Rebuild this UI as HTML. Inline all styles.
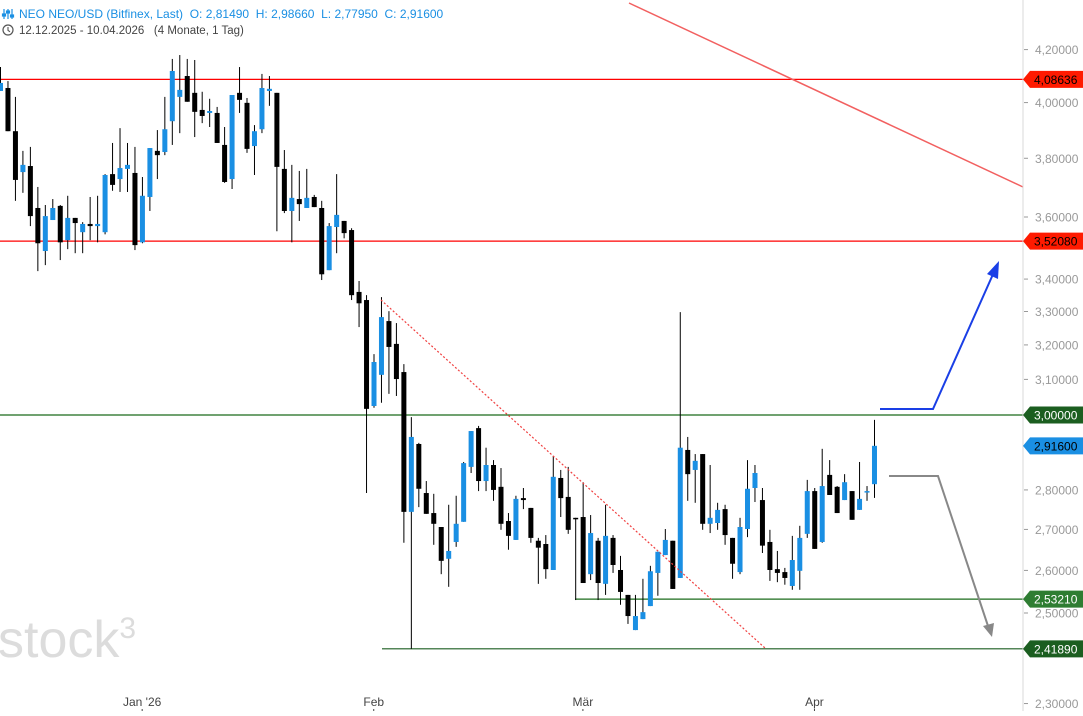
<!DOCTYPE html>
<html><head><meta charset="utf-8"><style>
body{margin:0;background:#fff;}
svg text{font-family:"Liberation Sans",Arial,sans-serif;white-space:pre;}
</style></head><body>
<svg id="chart" width="1083" height="711" viewBox="0 0 1083 711" xmlns="http://www.w3.org/2000/svg">
<rect width="1083" height="711" fill="#fff"/>
<text x="-2" y="657" font-size="52" fill="#dcdcdc">stock<tspan font-size="30" dy="-19">3</tspan></text>
<g id="levels"></g>
<g id="candles"></g>
<g id="overlay"></g>
<line x1="1023" y1="0" x2="1023" y2="711" stroke="#d8d8d8"/>
<g id="yaxis"></g>
<g id="xaxis"></g>
<g>
<g stroke="#1a8fe3" stroke-width="1.2">
<line x1="4" y1="9" x2="4" y2="19"/><line x1="8" y1="9" x2="8" y2="19"/><line x1="12" y1="9" x2="12" y2="19"/>
<rect x="2.5" y="14" width="3" height="2" fill="#1a8fe3"/><rect x="6.5" y="11" width="3" height="2" fill="#1a8fe3"/><rect x="10.5" y="15" width="3" height="2" fill="#1a8fe3"/>
</g>
<text x="19" y="18" font-size="12" fill="#1a8fe3">NEO NEO/USD (Bitfinex, Last)  O: 2,81490  H: 2,98660  L: 2,77950  C: 2,91600</text>
<g><circle cx="8" cy="30" r="5" fill="none" stroke="#555" stroke-width="1.2"/><path d="M8 27v3.3l2 1.5" fill="none" stroke="#555" stroke-width="1.1"/></g>
<text x="19" y="34" font-size="11.5" fill="#444">12.12.2025 - 10.04.2026   (4 Monate, 1 Tag)</text>
</g>
</svg>
<script>
const opens=[4.043,4.054,3.896,3.752,3.773,3.630,3.489,3.590,3.637,3.524,3.597,3.550,3.577,3.570,3.550,3.745,3.728,3.763,3.749,3.517,3.667,3.826,3.822,3.932,4.021,4.099,4.036,3.973,3.962,3.962,3.847,3.728,4.036,3.999,3.843,3.903,4.043,4.036,3.763,3.620,3.660,3.630,3.667,3.630,3.428,3.567,3.587,3.557,3.360,3.335,3.025,3.113,3.271,3.203,3.121,2.744,2.921,2.792,2.741,2.706,2.628,2.669,2.719,2.860,2.964,2.823,2.865,2.808,2.721,2.674,2.779,2.754,2.672,2.664,2.601,2.831,2.782,2.729,2.731,2.591,2.672,2.568,2.679,2.601,2.542,2.461,2.486,2.516,2.594,2.637,2.672,2.582,2.905,2.852,2.894,2.714,2.716,2.751,2.679,2.596,2.701,2.805,2.774,2.669,2.603,2.596,2.563,2.599,2.689,2.797,2.669,2.839,2.808,2.774,2.797,2.749,2.795,2.8149];
const highs=[4.133,4.080,4.021,3.826,3.840,3.701,3.640,3.660,3.640,3.671,3.597,3.583,3.667,3.671,3.745,3.854,3.907,3.854,3.840,3.735,3.836,3.900,4.021,4.164,4.179,4.164,4.160,4.040,4.014,3.984,3.911,4.028,4.133,4.017,3.918,4.107,4.099,4.036,3.829,3.777,3.756,3.763,3.674,3.654,3.580,3.745,3.587,3.563,3.394,3.350,3.173,3.344,3.301,3.265,3.144,2.994,2.924,2.823,2.790,2.706,2.762,2.785,2.873,2.956,2.970,2.911,2.878,2.857,2.741,2.785,2.805,2.754,2.679,2.686,2.889,2.852,2.860,2.729,2.820,2.736,2.679,2.762,2.686,2.635,2.542,2.542,2.580,2.611,2.645,2.701,2.672,3.298,2.940,2.894,2.894,2.865,2.767,2.762,2.679,2.729,2.878,2.865,2.805,2.699,2.647,2.606,2.684,2.709,2.826,2.805,2.908,2.878,2.810,2.841,2.797,2.873,2.810,2.9866];
const lows=[4.043,3.896,3.654,3.681,3.570,3.425,3.444,3.590,3.460,3.495,3.482,3.482,3.524,3.517,3.543,3.688,3.684,3.684,3.492,3.514,3.620,3.728,3.811,3.847,3.889,4.003,3.875,3.925,3.911,3.854,3.715,3.694,3.962,3.819,3.742,3.889,3.988,3.553,3.613,3.517,3.587,3.630,3.633,3.397,3.428,3.482,3.530,3.335,3.253,2.792,3.020,3.034,3.059,3.053,2.667,2.419,2.756,2.739,2.662,2.591,2.561,2.657,2.719,2.844,2.797,2.797,2.772,2.699,2.650,2.674,2.751,2.667,2.568,2.580,2.601,2.731,2.689,2.530,2.570,2.577,2.530,2.542,2.594,2.519,2.475,2.461,2.486,2.516,2.540,2.637,2.556,2.582,2.772,2.767,2.699,2.691,2.699,2.662,2.580,2.591,2.681,2.769,2.642,2.575,2.572,2.566,2.554,2.554,2.679,2.652,2.667,2.787,2.741,2.774,2.724,2.749,2.772,2.7795];
const closes=[4.073,3.896,3.725,3.777,3.603,3.514,3.603,3.630,3.517,3.597,3.580,3.577,3.570,3.577,3.742,3.708,3.766,3.777,3.508,3.671,3.836,3.811,3.903,4.118,4.047,4.003,3.966,3.951,3.969,3.854,3.718,4.028,4.010,3.833,3.896,4.054,4.051,3.770,3.620,3.664,3.643,3.664,3.633,3.415,3.570,3.607,3.547,3.350,3.325,3.017,3.150,3.283,3.194,3.101,2.744,2.940,2.803,2.739,2.714,2.623,2.647,2.714,2.870,2.956,2.823,2.865,2.800,2.714,2.684,2.777,2.774,2.679,2.655,2.603,2.834,2.779,2.699,2.727,2.570,2.691,2.570,2.684,2.613,2.549,2.493,2.493,2.502,2.598,2.645,2.674,2.556,2.911,2.841,2.876,2.714,2.729,2.749,2.686,2.616,2.706,2.803,2.844,2.660,2.601,2.594,2.582,2.625,2.679,2.797,2.652,2.810,2.787,2.741,2.820,2.724,2.777,2.797,2.916];
const yTicks=[4.2,4.0,3.8,3.6,3.4,3.3,3.2,3.1,3.0,2.8,2.7,2.6,2.5,2.3];
const monthLabels=["Jan '26","Feb","Mär","Apr"];
const monthIndex=[19.5,50.5,78.5,109.5];
const levelValues=[4.08636,3.5208,3.0,2.5321,2.4189];
const lastPrice=2.916;

const NS="http://www.w3.org/2000/svg";
const Y0=415,K=1086,BASE=3.0;
function yScale(v){return Y0-K*Math.log(v/BASE);}
function xScale(i){return 0.5+7.47*i;}
function mk(tag,attrs,parent){const e=document.createElementNS(NS,tag);for(const k in attrs)e.setAttribute(k,attrs[k]);parent.appendChild(e);return e;}
const fmt=v=>v.toFixed(5).replace('.',',');

const cg=document.getElementById('candles');
for(let i=0;i<opens.length;i++){
  const x=xScale(i),o=opens[i],c=closes[i],up=c>=o;
  const col=up?'#1a8fe3':'#000';
  const g=mk('g',{},cg);
  
  
  mk('line',{x1:x,x2:x,y1:yScale(highs[i]),y2:yScale(lows[i]),stroke:'#000','stroke-width':1},g);
  const t=yScale(Math.max(o,c)),b=yScale(Math.min(o,c));
  mk('rect',{x:x-2.5,y:t,width:5,height:Math.max(1.5,b-t),fill:col},g);
}

const lg=document.getElementById('levels');
const levelStyle=[{x1:0,col:'#ff0000',bg:'#ff1a00',tc:'#000',n:'resistance-4-08636'},{x1:0,col:'#ff0000',bg:'#ff1a00',tc:'#000',n:'resistance-3-52080'},{x1:0,col:'#1b6b1b',bg:'#1b5e20',tc:'#fff',n:'level-3-00000'},{x1:575,col:'#1b6b1b',bg:'#2e7d32',tc:'#fff',n:'support-2-53210'},{x1:382,col:'#1b5e20',bg:'#1b5e20',tc:'#fff',n:'support-2-41890'}];
const yg=document.getElementById('yaxis');
levelValues.forEach((v,k)=>{
  const s=levelStyle[k],y=yScale(v);
  const l=mk('line',{x1:s.x1,x2:1023,y1:y,y2:y,stroke:s.col,'stroke-width':1.2},lg);
  
  
});
yTicks.forEach(v=>{
  const y=yScale(v);
  mk('line',{x1:1024,x2:1028,y1:y,y2:y,stroke:'#999'},yg);
  const t=mk('text',{x:1035,y:y+4.5,'font-size':12,fill:'#999'},yg);
  
  
  t.textContent=fmt(v);
});
function tag(v,bg,tc,name){
  const y=yScale(v);
  const g=mk('g',{},yg);
  
  
  mk('path',{d:`M1023 ${y} L1030 ${y-8.5} L1083 ${y-8.5} L1083 ${y+8.5} L1030 ${y+8.5} Z`,fill:bg},g);
  const t=mk('text',{x:1034,y:y+4.5,'font-size':12,fill:tc},g);
  t.textContent=fmt(v);
}
levelValues.forEach((v,k)=>tag(v,levelStyle[k].bg,levelStyle[k].tc,levelStyle[k].n+'-tag'));
tag(lastPrice,'#1a8fe3','#000','last-price-tag');

const xg=document.getElementById('xaxis');
monthLabels.forEach((m,k)=>{
  const x=xScale(monthIndex[k])-4;
  const t=mk('text',{x:x,y:706,'font-size':12,fill:'#444','text-anchor':'middle'},xg);
  
  
  t.textContent=m;
  mk('line',{x1:x,x2:x,y1:709,y2:711,stroke:'#444'},xg);
});

const og=document.getElementById('overlay');
const d1=mk('line',{x1:629,y1:3,x2:1023,y2:187,stroke:'#f26060','stroke-width':1.5},og);


const d2=mk('line',{x1:381,y1:300,x2:765,y2:648,stroke:'#f04040','stroke-width':1.2,'stroke-dasharray':'2,2'},og);


const a1=mk('path',{d:'M880 409 L933 409 L994 272',fill:'none',stroke:'#1a3fe6','stroke-width':2},og);


mk('path',{d:'M999 261 L987 274 L998 279 Z',fill:'#1a3fe6'},og);
const a2=mk('path',{d:'M889 476 L938 476 L988 626',fill:'none',stroke:'#888','stroke-width':2},og);


mk('path',{d:'M992 637 L983 626 L994 623 Z',fill:'#888'},og);
</script>
</body></html>
